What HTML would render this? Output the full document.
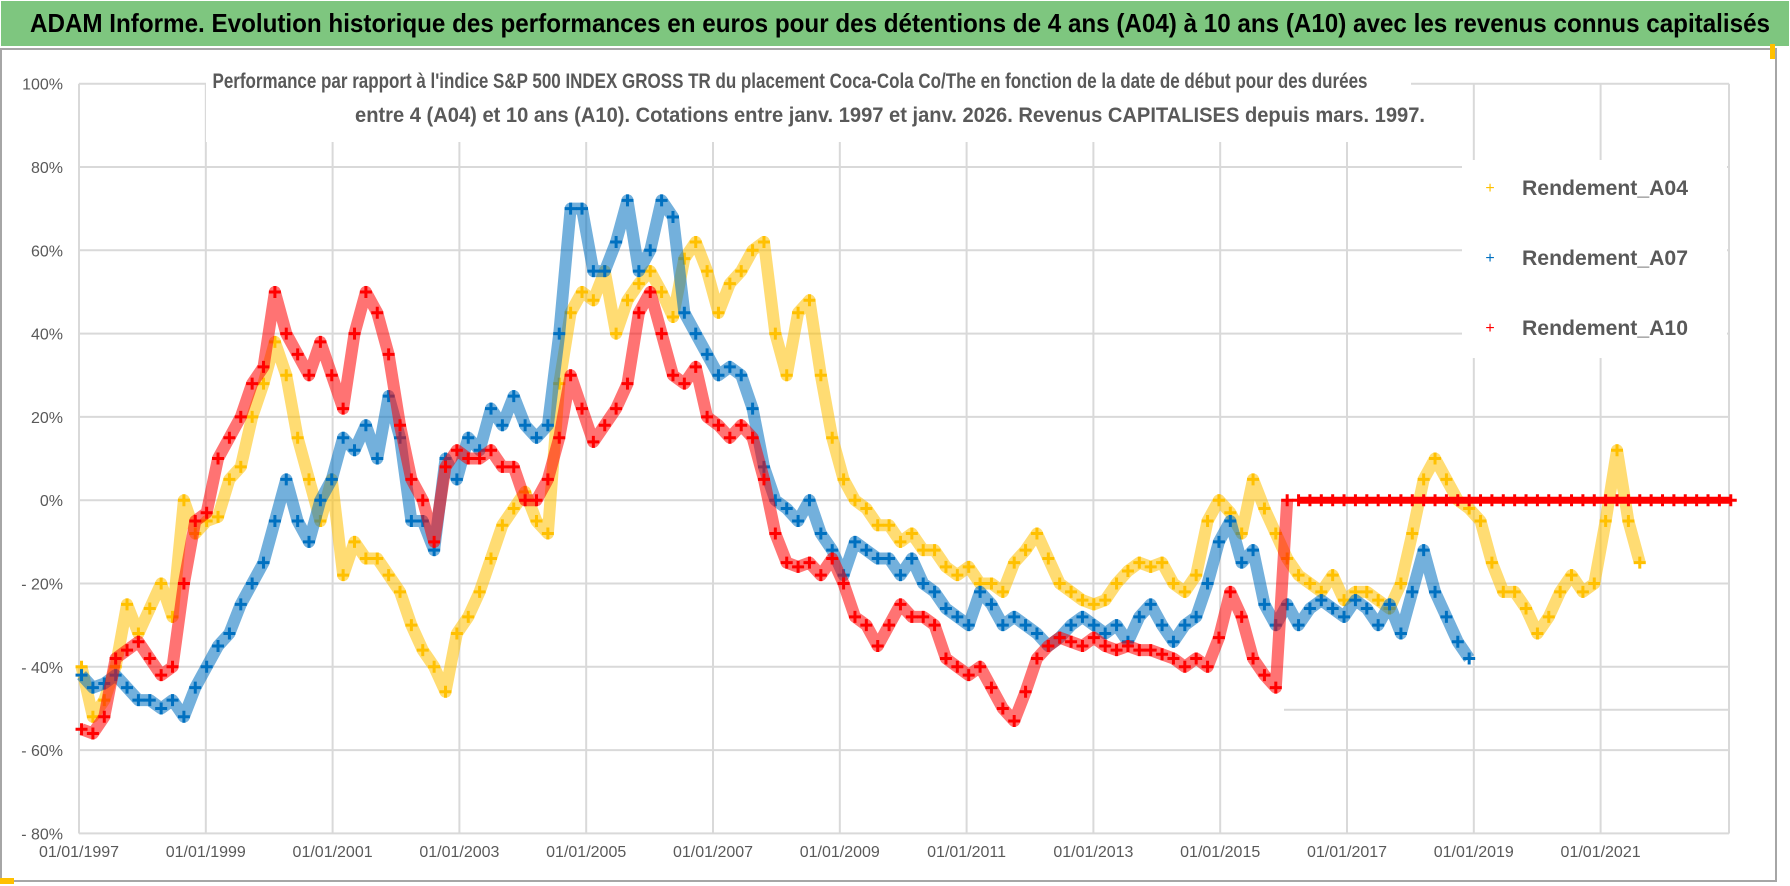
<!DOCTYPE html>
<html><head><meta charset="utf-8"><style>
html,body{margin:0;padding:0;background:#fff;}
svg{display:block;}
text{font-family:"Liberation Sans",sans-serif;}
</style></head><body>
<svg id="chart" width="1790" height="886" viewBox="0 0 1790 886">
<rect x="0" y="0" width="1790" height="886" fill="#fff"/>
<rect x="1" y="1" width="1788" height="45" fill="#7ec67f"/>
<text x="30" y="32" font-size="26" font-weight="bold" fill="#000" textLength="1740" lengthAdjust="spacingAndGlyphs">ADAM Informe. Evolution historique des performances en euros pour des détentions de 4 ans (A04) à 10 ans (A10) avec les revenus connus capitalisés</text>
<rect x="1" y="49" width="1775" height="832" fill="none" stroke="#a6a6a6" stroke-width="2"/>
<rect x="0" y="878" width="14" height="6" fill="#ffc000"/>
<rect x="1770" y="44" width="5" height="15" fill="#ffc000"/>
<g id="grid"></g>
<g id="yticks"></g>
<g id="xticks"></g>
<rect x="206" y="64" width="1205" height="78" fill="#fff"/>
<text x="790" y="88" font-size="21" font-weight="bold" fill="#595959" text-anchor="middle" textLength="1155" lengthAdjust="spacingAndGlyphs">Performance par rapport à l'indice S&amp;P 500 INDEX GROSS TR  du placement Coca-Cola Co/The en fonction de la date de début pour des durées</text>
<text x="890" y="122" font-size="21" font-weight="bold" fill="#595959" text-anchor="middle" textLength="1070" lengthAdjust="spacingAndGlyphs">entre 4 (A04) et 10 ans (A10). Cotations entre janv. 1997 et janv. 2026. Revenus CAPITALISES depuis mars. 1997.</text>
<line x1="1284" y1="709.7" x2="1729" y2="709.7" stroke="#d9d9d9" stroke-width="2"/>
<g id="series"></g>
<rect x="1462" y="160" width="265" height="198" fill="#fff"/>
<g><text x="1490" y="193" font-size="16" fill="#ffc000" text-anchor="middle">+</text><text x="1522" y="195" font-size="21" font-weight="bold" fill="#595959" textLength="166" lengthAdjust="spacingAndGlyphs">Rendement_A04</text></g>
<g><text x="1490" y="263" font-size="16" fill="#0070c0" text-anchor="middle">+</text><text x="1522" y="265" font-size="21" font-weight="bold" fill="#595959" textLength="166" lengthAdjust="spacingAndGlyphs">Rendement_A07</text></g>
<g><text x="1490" y="333" font-size="16" fill="#ff0000" text-anchor="middle">+</text><text x="1522" y="335" font-size="21" font-weight="bold" fill="#595959" textLength="166" lengthAdjust="spacingAndGlyphs">Rendement_A10</text></g>
</svg>
<script>
const startYear = 1997.04;
const stepYears = 0.1794;
const yTicks = [100,80,60,40,20,0,-20,-40,-60,-80];
const xTickYears = [1997,1999,2001,2003,2005,2007,2009,2011,2013,2015,2017,2019,2021];
const a04 = [-40,-52,-48,-40,-25,-32,-26,-20,-28,0,-8,-5,-4,5,8,20,28,38,30,15,5,-5,5,-18,-10,-14,-14,-18,-22,-30,-36,-40,-46,-32,-28,-22,-14,-6,-2,2,-5,-8,28,45,50,48,55,40,48,52,55,50,44,58,62,55,45,52,55,60,62,40,30,45,48,30,15,5,0,-2,-6,-6,-10,-8,-12,-12,-16,-18,-16,-20,-20,-22,-15,-12,-8,-14,-20,-22,-24,-25,-24,-20,-17,-15,-16,-15,-20,-22,-18,-5,0,-3,-8,5,-2,-8,-14,-18,-20,-22,-18,-24,-22,-22,-24,-26,-20,-8,5,10,5,0,-2,-5,-15,-22,-22,-26,-32,-28,-22,-18,-22,-20,-5,12,-5,-15];
const a07 = [-42,-45,-44,-42,-45,-48,-48,-50,-48,-52,-45,-40,-35,-32,-25,-20,-15,-5,5,-5,-10,0,5,15,12,18,10,25,15,-5,-5,-12,10,5,15,12,22,18,25,18,15,18,40,70,70,55,55,62,72,55,60,72,68,45,40,35,30,32,30,22,8,0,-2,-5,0,-8,-12,-18,-10,-12,-14,-14,-18,-14,-20,-22,-26,-28,-30,-22,-25,-30,-28,-30,-32,-35,-33,-30,-28,-30,-32,-30,-34,-28,-25,-30,-34,-30,-28,-20,-10,-5,-15,-12,-25,-30,-25,-30,-26,-24,-26,-28,-24,-26,-30,-25,-32,-22,-12,-22,-28,-34,-38];
const a10 = [-55,-56,-52,-38,-36,-34,-38,-42,-40,-20,-5,-3,10,15,20,28,32,50,40,35,30,38,30,22,40,50,45,35,18,5,0,-10,8,12,10,10,12,8,8,0,0,5,15,30,22,14,18,22,28,45,50,40,30,28,32,20,18,15,18,15,5,-8,-15,-16,-15,-18,-14,-20,-28,-30,-35,-30,-25,-28,-28,-30,-38,-40,-42,-40,-45,-50,-53,-46,-38,-35,-33,-34,-35,-33,-35,-36,-35,-36,-36,-37,-38,-40,-38,-40,-33,-22,-28,-38,-42,-45,0,0,0,0,0,0,0,0,0,0,0,0,0,0,0,0,0,0,0,0,0,0,0,0,0,0,0,0,0,0,0,0,0,0,0,0,0,0,0,0];
const seriesNames = ['a04','a07','a10'];
const seriesColors = ['#ffc000','#0070c0','#ff0000'];

const NS = 'http://www.w3.org/2000/svg';
const X0 = 79, PXY = 63.4, Y0 = 500.2, PXV = 4.165, XR = 1729, YT = 83.7, YB = 833.5;
function xScale(yr){ return X0 + (yr - 1997) * PXY; }
function yScale(v){ return Y0 - v * PXV; }
function mk(tag, attrs, parent){ const e = document.createElementNS(NS, tag); for (const k in attrs) e.setAttribute(k, attrs[k]); parent.appendChild(e); return e; }

const grid = document.getElementById('grid');
yTicks.forEach(t => {
  const l = mk('line', {x1: X0, x2: XR, y1: yScale(t), y2: yScale(t), stroke: '#d9d9d9', 'stroke-width': 2}, grid);
  
  
  const tx = mk('text', {x: 63, y: yScale(t) + 6, 'font-size': 16, fill: '#595959', 'text-anchor': 'end'}, document.getElementById('yticks'));
  tx.textContent = t < 0 ? '- ' + Math.abs(t) + '%' : t + '%';
  
  
});
xTickYears.forEach(y => {
  const l = mk('line', {x1: xScale(y), x2: xScale(y), y1: YT, y2: YB, stroke: '#d9d9d9', 'stroke-width': 2}, grid);
  
  
  const tx = mk('text', {x: xScale(y), y: 857, 'font-size': 16, fill: '#595959', 'text-anchor': 'middle'}, document.getElementById('xticks'));
  tx.textContent = '01/01/' + y;
  
  
});
mk('line', {x1: XR, x2: XR, y1: YT, y2: YB, stroke: '#d9d9d9', 'stroke-width': 2}, grid);

const sg = document.getElementById('series');
[a04, a07, a10].forEach((vals, si) => {
  const g = mk('g', {}, sg);
  
  
  const col = seriesColors[si];
  const pts = vals.map((v, i) => [xScale(startYear + i * stepYears), yScale(v)]);
  const splitAt = si === 2 ? 107 : vals.length;
  const band = mk('polyline', {points: pts.slice(0, splitAt).map(p => p.join(',')).join(' '), fill: 'none', stroke: col, 'stroke-width': 12, 'stroke-linejoin': 'round', opacity: 0.55}, g);
  
  
  pts.forEach(p => {
    const m = mk('path', {d: `M${p[0]-6},${p[1]}h12M${p[0]},${p[1]-6}v12`, stroke: col, 'stroke-width': 3}, g);
    
    
  });
  if (si === 2) {
    const z = pts.slice(splitAt);
    const zl = mk('line', {x1: z[0][0], x2: z[z.length-1][0], y1: z[0][1], y2: z[0][1], stroke: col, 'stroke-width': 7}, g);
    
    
  }
});
</script>
</body></html>
